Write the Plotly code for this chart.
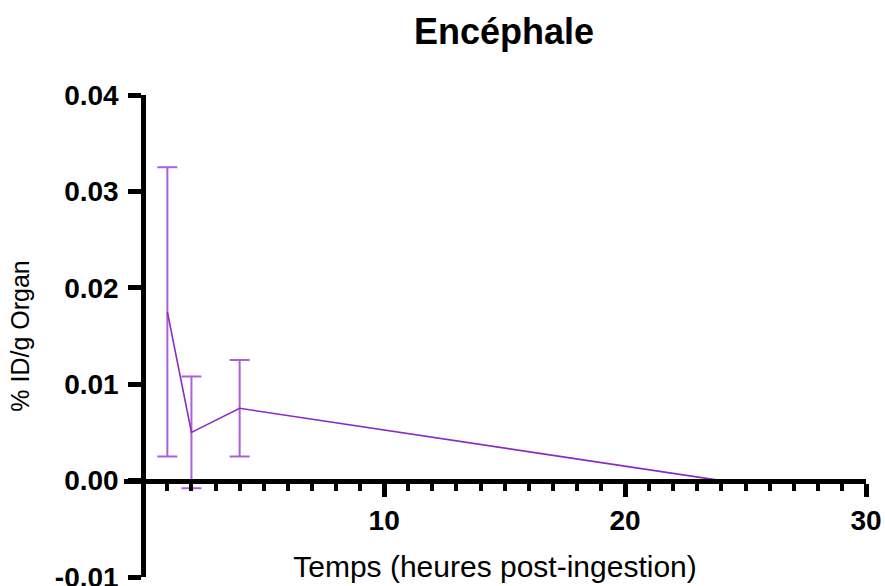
import plotly.graph_objects as go

hours = [1, 2, 4, 24]
values = [0.0175, 0.0050, 0.0075, 0.0000]
errors = [0.0150, 0.0058, 0.0050, 0.0]
x_tick_vals = [10, 20, 30]
y_tick_vals = [-0.01, 0.0, 0.01, 0.02, 0.03, 0.04]
y_tick_text = ["-0.01", "0.00", "0.01", "0.02", "0.03", "0.04"]

X0, X1 = -0.8, 30
Y0, Y1 = -0.01, 0.04
FONT = "Liberation Sans, Arial, sans-serif"

W, H = 885, 600  # extra height is cut by the window

fig = go.Figure()
fig.add_trace(go.Scatter(
    x=hours, y=values, mode="lines",
    line=dict(color="#8A2BC6", width=1.6),
    error_y=dict(type="data", array=errors, visible=True,
                 color="#AE5FDB", thickness=2, width=10),
    showlegend=False,
))

fig.update_layout(
    width=W, height=H,
    margin=dict(l=124, r=W - 866, t=95, b=H - 577),
    paper_bgcolor="white", plot_bgcolor="white",
    font=dict(family=FONT, color="black"),
    title=dict(text="Encéphale", x=504 / W, xanchor="center",
               y=1 - 31 / H, yanchor="middle",
               font=dict(size=36, color="black", weight="bold")),
    xaxis=dict(
        range=[X0, X1], anchor="free", position=(0 - Y0) / (Y1 - Y0),
        automargin=False,
        showgrid=False, zeroline=False,
        showline=True, linecolor="black", linewidth=5,
        tickmode="array", tickvals=x_tick_vals,
        ticks="outside", ticklen=13, tickwidth=5, tickcolor="black",
        tickfont=dict(size=28, color="black", family=FONT, weight="bold"),
        minor=dict(tickmode="linear", tick0=0, dtick=1, ticks="outside",
                   ticklen=7, tickwidth=4, tickcolor="black", showgrid=False),
        title=dict(text="Temps (heures post-ingestion)", standoff=20,
                   font=dict(size=30, color="black")),
    ),
    yaxis=dict(
        range=[Y0, Y1], anchor="free", position=(0 - X0) / (X1 - X0),
        automargin=False,
        showgrid=False, zeroline=False,
        showline=True, linecolor="black", linewidth=5,
        tickmode="array", tickvals=y_tick_vals, ticktext=y_tick_text,
        ticks="outside", ticklen=13, tickwidth=5, tickcolor="black",
        ticklabelstandoff=4,
        tickfont=dict(size=28, color="black", family=FONT, weight="bold"),
        title=dict(text="% ID/g Organ", standoff=17,
                   font=dict(size=25, color="black")),
    ),
)

fig.write_html("out.html",
               config={"displayModeBar": False},
               post_script="document.documentElement.style.overflow='hidden';"
                           "document.body.style.overflow='hidden';"
                           "document.body.style.margin='0';")
